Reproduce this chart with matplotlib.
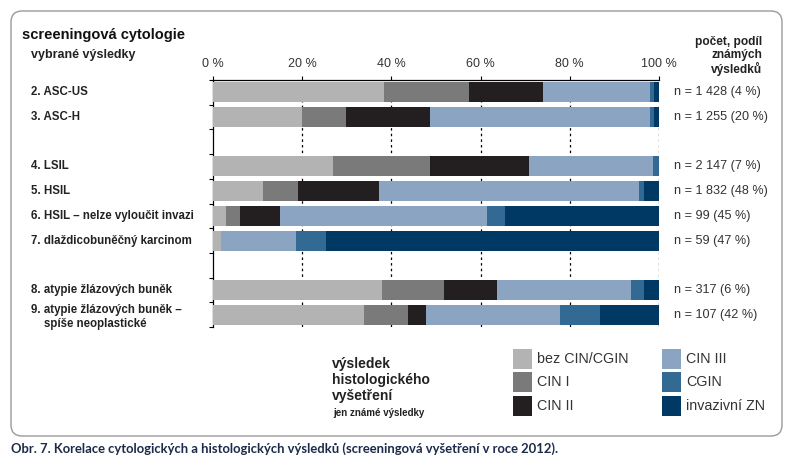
import matplotlib.pyplot as plt
from matplotlib.patches import Rectangle, FancyBboxPatch
import numpy as np

plt.rcParams["font.family"] = ["Liberation Sans", "DejaVu Sans"]

# --- data (share of known histology results, %) ---
rows = [
    "2. ASC-US",
    "3. ASC-H",
    "",
    "4. LSIL",
    "5. HSIL",
    "6. HSIL – nelze vyloučit invazi",
    "7. dlaždicobuněčný karcinom",
    "",
    "8. atypie žlázových buněk",
    "9. atypie žlázových buněk –\n    spíše neoplastické",
]
n_labels = [
    "n = 1 428 (4 %)",
    "n = 1 255 (20 %)",
    "",
    "n = 2 147 (7 %)",
    "n = 1 832 (48 %)",
    "n = 99 (45 %)",
    "n = 59 (47 %)",
    "",
    "n = 317 (6 %)",
    "n = 107 (42 %)",
]
categories = ["bez CIN/CGIN", "CIN I", "CIN II", "CIN III", "CGIN", "invazivní ZN"]
bez = [38.4, 20.0, 0, 26.9, 11.1, 2.9, 1.7, 0, 37.9, 33.9]
cin1 = [19.0, 9.8, 0, 21.8, 7.9, 3.2, 0.0, 0, 13.9, 9.9]
cin2 = [16.6, 18.9, 0, 22.2, 18.2, 8.9, 0.0, 0, 11.8, 4.0]
cin3 = [23.9, 49.2, 0, 27.8, 58.4, 46.5, 16.9, 0, 30.2, 30.1]
cgin = [0.9, 0.9, 0, 1.3, 1.1, 4.0, 6.8, 0, 2.9, 8.9]
invaz = [1.2, 1.2, 0, 0.0, 3.3, 34.5, 74.6, 0, 3.3, 13.2]
series = [bez, cin1, cin2, cin3, cgin, invaz]
colors = ["#b3b3b3", "#7a7a7a", "#231f20", "#8aa4c2", "#336a94", "#003a64"]
xticks = [0, 20, 40, 60, 80, 100]

fig = plt.figure(figsize=(7.93, 4.65), dpi=100)
W, H = 793, 465

def px(x, y):
    return x / W, 1 - y / H

# rounded frame
frame = FancyBboxPatch(
    (11 / 100, (H - 436) / 100), (782 - 11) / 100, (436 - 11) / 100,
    boxstyle="round,pad=0,rounding_size=0.11",
    transform=fig.dpi_scale_trans, facecolor="white",
    edgecolor="#9a9a9a", linewidth=1.0, zorder=0,
)
fig.add_artist(frame)

ax = fig.add_axes([213 / W, 1 - 327 / H, (659 - 213) / W, (327 - 80) / H])
ax.set_facecolor("none")
y = np.arange(len(rows))
left = np.zeros(len(rows))
for vals, c in zip(series, colors):
    ax.barh(y, vals, left=left, height=0.81, color=c, zorder=3)
    left += np.array(vals)

ax.set_xlim(0, 100)
ax.set_ylim(len(rows) - 0.5, -0.5)
for xv in xticks[1:]:
    ax.axvline(xv, color="black", linestyle=(0, (2, 2.5)), linewidth=0.9, zorder=1)

ax.xaxis.tick_top()
ax.set_xticks(xticks)
ax.set_xticklabels([f"{v} %" for v in xticks], fontsize=9, color="#333333")
ax.tick_params(axis="x", direction="out", length=3, width=0.8, pad=4)
ax.set_yticks(np.arange(-0.5, len(rows) + 0.5, 1.0))
ax.set_yticklabels([])
ax.tick_params(axis="y", direction="out", length=3, width=0.8)
for s in ["right", "bottom"]:
    ax.spines[s].set_visible(False)
for s in ["left", "top"]:
    ax.spines[s].set_linewidth(0.9)

# row labels and counts
for i, (lab, nl) in enumerate(zip(rows, n_labels)):
    yy = ax.transData.transform((0, i))[1]
    if lab:
        off = -2.5 if "\n" in lab else 0
        fig.text(31 / W, (yy + off) / H, lab, fontsize=8.3, fontweight="bold",
                 ha="left", va="center", color="#222222", linespacing=1.15)
    if nl:
        fig.text(674 / W, yy / H, nl, fontsize=9.1, ha="left", va="center",
                 color="#333333")

fig.text(*px(22, 35), "screeningová cytologie", fontsize=10.5, fontweight="bold",
         ha="left", va="center", color="#111111")
fig.text(*px(31, 55), "vybrané výsledky", fontsize=9, fontweight="bold",
         ha="left", va="center", color="#222222")
fig.text(*px(762, 56), "počet, podíl\nznámých\nvýsledků", fontsize=8.6,
         fontweight="bold", ha="right", va="center", color="#222222",
         linespacing=1.05)

# legend
fig.text(*px(332, 380), "výsledek\nhistologického\nvyšetření", fontsize=10,
         fontweight="bold", ha="left", va="center", color="#222222",
         linespacing=1.15)
fig.text(*px(333, 413), "jen známé výsledky", fontsize=7, fontweight="bold",
         ha="left", va="center", color="#222222")
leg_cols = [513, 662]
leg_rows = [359, 382, 406]
for k, (cat, c) in enumerate(zip(categories, colors)):
    cx = leg_cols[k // 3]
    cy = leg_rows[k % 3]
    fig.add_artist(Rectangle((cx / W, 1 - (cy + 10) / H), 19 / W, 20 / H,
                             transform=fig.transFigure, facecolor=c,
                             edgecolor="none"))
    fig.text((cx + 24) / W, 1 - cy / H, cat, fontsize=10.3, ha="left",
             va="center", color="#333333")

fig.text(*px(11, 449),
         "Obr. 7. Korelace cytologických a histologických výsledků "
         "(screeningová vyšetření v roce 2012).",
         fontsize=9.4, fontweight="bold", ha="left", va="center", color="#1c2b4a",
         family=["Lato", "DejaVu Sans"])

fig.savefig("out.png", dpi=100)
